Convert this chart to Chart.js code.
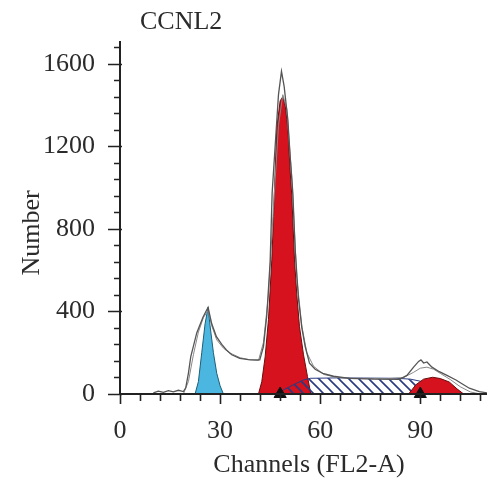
<!DOCTYPE html>
<html>
<head>
<meta charset="utf-8">
<script src="https://cdn.jsdelivr.net/npm/chart.js@4.4.1/dist/chart.umd.min.js"></script>
<style>
  html, body { margin: 0; padding: 0; background: #fff; }
  canvas { display: block; }
</style>
</head>
<body>
<canvas id="histChart" width="496" height="481"></canvas>
<script>
// --- Data ---
const xTicks = [0, 30, 60, 90];
const yTicks = [0, 400, 800, 1200, 1600];

// raw histogram (outer outline)
const rawChannels = [10, 11.5, 13, 14.5, 16, 17.5, 19, 19.7, 20.5, 21.2, 23, 24.9, 26.4, 27.5, 28.9, 30.5, 31.9, 33.5, 35.9, 38.5, 41.9,
    43, 44, 45, 45.6, 46.5, 47.5, 48.4, 49.2, 50.3, 51, 51.8, 52.5, 53.5, 54.5, 55.5, 56.8, 58.5, 60.8, 64, 68.8, 76, 83.8,
    86, 88, 89.5, 90.2, 91, 92, 93.5, 95.7, 98, 100.7, 102.5, 104.7, 107.7, 110];
const rawCounts = [5, 14, 8, 16, 10, 18, 12, 30, 100, 180, 296, 373, 420, 340, 278, 240, 213, 190, 173, 167, 165,
    230, 380, 640, 973, 1200, 1450, 1563, 1490, 1330, 1150, 973, 700, 460, 320, 230, 149, 120, 100, 86, 76, 72, 71,
    90, 130, 158, 165, 150, 155, 130, 108, 90, 68, 50, 28, 11, 5];

// fitted model (inner outline)
const modelChannels = [19, 20.5, 22, 23.5, 25, 26.4, 27.5, 29, 31, 33, 36, 39, 41.5, 43, 44.5, 46, 47.5, 48.8, 50, 51.5,
    53, 54.5, 56, 58, 61, 65, 70, 80, 85, 88, 90, 92, 94, 96, 99, 102, 105, 108];
const modelCounts = [0, 60, 190, 300, 370, 405, 330, 262, 222, 198, 176, 165, 162, 250, 480, 900, 1300, 1450, 1380, 1050,
    560, 330, 200, 135, 95, 80, 76, 74, 80, 105, 125, 130, 120, 100, 70, 35, 10, 0];

// sub-G1 peak (cyan)
const apoChannels = [22.5, 23.5, 24.5, 25.5, 26.4, 27, 28, 29, 30, 31];
const apoCounts = [0, 60, 200, 340, 420, 330, 200, 100, 40, 0];

// G1 peak (red)
const g1Channels = [41.5, 42.5, 43.5, 44.5, 45.5, 46, 47, 48, 48.8, 49.5, 50.3, 51, 51.5, 52.3, 53, 53.8, 55, 56.2, 57.2];
const g1Counts = [0, 60, 180, 360, 650, 860, 1290, 1420, 1440, 1400, 1290, 1080, 960, 650, 480, 326, 190, 84, 0];

// S phase (hatched)
const sChannels = [46.5, 49, 52, 55, 57, 65, 75, 83, 87, 90, 93, 96, 99, 101];
const sCounts = [0, 20, 45, 68, 76, 78, 77, 76, 72, 62, 45, 25, 8, 0];

// G2 peak (red)
const g2Channels = [86.5, 88.7, 91, 93.7, 96, 98.7, 101, 103];
const g2Counts = [0, 45, 72, 81, 75, 58, 25, 0];

// peak markers on the axis
const markerChannels = [48, 90];

const xMinorStep = 6;
const yMinorStep = 80;

const FONT = '"Liberation Serif", "Times New Roman", serif';
const TEXT_COLOR = '#2b2b2b';

const toPoints = (xs, ys) => xs.map((x, i) => ({ x: x, y: ys[i] }));

const makeHatch = () => {
    const c = document.createElement('canvas');
    c.width = 10;
    c.height = 10;
    const g = c.getContext('2d');
    g.strokeStyle = '#2a3a80';
    g.lineWidth = 1.6;
    g.beginPath();
    g.moveTo(-1, -1); g.lineTo(11, 11);
    g.moveTo(-1, 9); g.lineTo(1, 11);
    g.moveTo(9, -1); g.lineTo(11, 1);
    g.stroke();
    return g.createPattern(c, 'repeat');
};

// axis lines, major/minor ticks and titles
const axesPlugin = {
    id: 'axesPlugin',
    afterDatasetsDraw(chart) {
        const { ctx, chartArea, scales } = chart;
        const x = scales.x, y = scales.y;
        const x0 = x.getPixelForValue(0);
        const y0 = y.getPixelForValue(0);
        ctx.save();
        ctx.strokeStyle = '#222';
        ctx.lineWidth = 2;
        ctx.beginPath();
        ctx.moveTo(x0, chartArea.top);
        ctx.lineTo(x0, y0);
        ctx.moveTo(x0, y0);
        ctx.lineTo(chartArea.right, y0);
        ctx.stroke();

        ctx.lineWidth = 1.6;
        ctx.beginPath();
        for (let v = 0; v <= y.max; v += yMinorStep) {
            const py = Math.round(y.getPixelForValue(v)) + 0.5;
            const major = yTicks.includes(v);
            ctx.moveTo(x0 - (major ? 12 : 6), py);
            ctx.lineTo(x0 + (major ? 2 : 0), py);
        }
        for (let v = 0; v <= x.max; v += xMinorStep) {
            const px = Math.round(x.getPixelForValue(v)) + 0.5;
            const major = xTicks.includes(v);
            ctx.moveTo(px, y0);
            ctx.lineTo(px, y0 + (major ? 10 : 7));
        }
        ctx.stroke();
        ctx.restore();
    },
    afterDraw(chart) {
        const { ctx } = chart;
        ctx.save();
        ctx.fillStyle = TEXT_COLOR;
        ctx.font = '26px ' + FONT;
        ctx.textBaseline = 'middle';
        ctx.textAlign = 'left';
        ctx.fillText('CCNL2', 140, 22);
        ctx.textAlign = 'center';
        ctx.fillText('Channels (FL2-A)', 309, 465);
        ctx.translate(32, 233);
        ctx.rotate(-Math.PI / 2);
        ctx.fillText('Number', 0, 0);
        ctx.restore();
    }
};

const ctx = document.getElementById('histChart');
const hatch = makeHatch();

new Chart(ctx, {
    type: 'line',
    data: {
        datasets: [
            {
                label: 'markers',
                data: markerChannels.map(c => ({ x: c, y: 0 })),
                showLine: false,
                pointStyle: 'triangle',
                pointRadius: 7,
                pointBackgroundColor: '#111',
                pointBorderColor: '#111',
                clip: false,
                order: 0
            },
            {
                label: 'raw',
                data: toPoints(rawChannels, rawCounts),
                borderColor: '#555',
                borderWidth: 1.3,
                pointRadius: 0,
                fill: false,
                order: 1
            },
            {
                label: 'model',
                data: toPoints(modelChannels, modelCounts),
                borderColor: '#888',
                borderWidth: 1,
                pointRadius: 0,
                fill: false,
                order: 1
            },
            {
                label: 'G2',
                data: toPoints(g2Channels, g2Counts),
                borderColor: '#6b0d0d',
                borderWidth: 1,
                backgroundColor: '#d5121e',
                pointRadius: 0,
                fill: 'origin',
                order: 2
            },
            {
                label: 'S',
                data: toPoints(sChannels, sCounts),
                borderColor: '#2a3a80',
                borderWidth: 1,
                backgroundColor: hatch,
                pointRadius: 0,
                fill: 'origin',
                order: 3
            },
            {
                label: 'G1',
                data: toPoints(g1Channels, g1Counts),
                borderColor: '#6b0d0d',
                borderWidth: 1,
                backgroundColor: '#d5121e',
                pointRadius: 0,
                fill: 'origin',
                order: 4
            },
            {
                label: 'subG1',
                data: toPoints(apoChannels, apoCounts),
                borderColor: '#1d5f78',
                borderWidth: 1,
                backgroundColor: '#4bb6e0',
                pointRadius: 0,
                fill: 'origin',
                order: 4
            }
        ]
    },
    options: {
        responsive: false,
        animation: false,
        layout: { padding: { top: 41, right: 9, left: 0, bottom: 0 } },
        plugins: {
            legend: { display: false },
            tooltip: { enabled: false }
        },
        scales: {
            x: {
                type: 'linear',
                min: 0,
                max: 110,
                grid: { display: false },
                border: { display: false },
                afterFit: (scale) => { scale.height = 87; },
                afterBuildTicks: (scale) => { scale.ticks = xTicks.map(v => ({ value: v })); },
                ticks: {
                    padding: 14,
                    color: TEXT_COLOR,
                    font: { family: FONT, size: 26 },
                    maxRotation: 0,
                    callback: (value) => String(value)
                }
            },
            y: {
                min: 0,
                max: 1710,
                grid: { display: false },
                border: { display: false },
                afterFit: (scale) => { scale.width = 120; },
                afterBuildTicks: (scale) => { scale.ticks = yTicks.map(v => ({ value: v })); },
                ticks: {
                    padding: 17,
                    color: TEXT_COLOR,
                    font: { family: FONT, size: 26 },
                    callback: (value) => String(value)
                }
            }
        }
    },
    plugins: [axesPlugin]
});
</script>
</body>
</html>
